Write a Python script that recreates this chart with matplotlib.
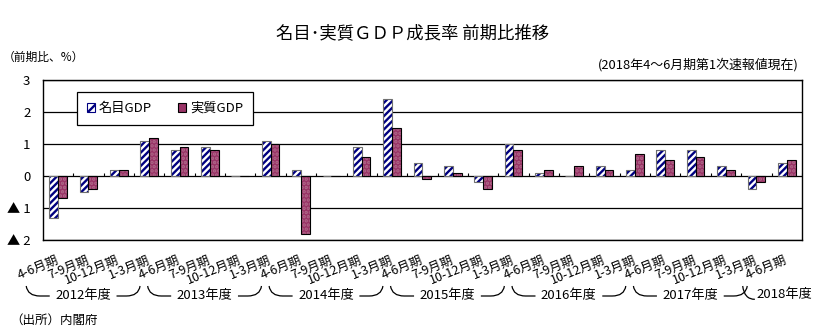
import numpy as np
import matplotlib
matplotlib.use('Agg')
from matplotlib import pyplot as plt
from matplotlib.patches import Patch
from matplotlib.path import Path
from matplotlib.patches import PathPatch
from matplotlib.transforms import blended_transform_factory

plt.rcParams['font.family'] = ['Noto Sans CJK JP', 'DejaVu Sans']
plt.rcParams['hatch.linewidth'] = 1.7

quarters = ['4-6月期', '7-9月期', '10-12月期', '1-3月期'] * 6 + ['4-6月期']
nominal = [-1.3, -0.5, 0.2, 1.1, 0.8, 0.9, 0.0, 1.1, 0.2, 0.0, 0.9, 2.4,
           0.4, 0.3, -0.2, 1.0, 0.1, 0.0, 0.3, 0.2, 0.8, 0.8, 0.3, -0.4, 0.4]
real = [-0.7, -0.4, 0.2, 1.2, 0.9, 0.8, 0.0, 1.0, -1.8, 0.0, 0.6, 1.5,
        -0.1, 0.1, -0.4, 0.8, 0.2, 0.3, 0.2, 0.7, 0.5, 0.6, 0.2, -0.2, 0.5]
fiscal_years = ['2012年度', '2013年度', '2014年度', '2015年度', '2016年度', '2017年度', '2018年度']
yticks = [-2, -1, 0, 1, 2, 3]
ytick_labels = ['▲ 2', '▲ 1', '0', '1', '2', '3']

NAVY = '#000080'
MAROON = '#993366'
HATCH = '/////'

fig = plt.figure(figsize=(8.25, 3.33), dpi=100)
ax = fig.add_axes([0.052, 0.279, 0.920, 0.481])

x = np.arange(len(quarters))
w = 0.29
# nominal: white with navy stripes, grey outline
ax.bar(x - w / 2, nominal, w, color='white', edgecolor=NAVY, hatch=HATCH, linewidth=0, zorder=3)
ax.bar(x - w / 2, nominal, w, fill=False, edgecolor='#707070', linewidth=0.8, zorder=4)
# real: maroon with faint speckles
ax.bar(x + w / 2, real, w, color=MAROON, edgecolor='#b06a8a', hatch='....', linewidth=0, zorder=3)
ax.bar(x + w / 2, real, w, fill=False, edgecolor='black', linewidth=0.8, zorder=4)

ax.set_xlim(-0.5, len(quarters) - 0.5)
ax.set_ylim(-2, 3)
ax.set_yticks(yticks)
ax.set_yticklabels(ytick_labels, fontsize=9.5)
ax.tick_params(axis='y', length=0, pad=9)
for yv in yticks:
    ax.axhline(yv, color='black', linewidth=0.9, zorder=1)
for s in ax.spines.values():
    s.set_linewidth(1.0)

# small category ticks on the zero line
ax.vlines(np.arange(len(quarters) + 1) - 0.5, 0, 0.08, color='black', linewidth=0.8, zorder=2)

ax.set_xticks(x)
ax.set_xticklabels(quarters, rotation=22, ha='right', va='center', rotation_mode='anchor', fontsize=9)
ax.tick_params(axis='x', length=0, pad=14)

# fiscal-year brackets under the quarter labels
trans = blended_transform_factory(ax.transData, fig.transFigure)
y_top, y_line = 1 - 286 / 333, 1 - 296 / 333
starts = [0, 4, 8, 12, 16, 20, 24]
for i, fy in enumerate(fiscal_years):
    first = starts[i]
    last = starts[i + 1] - 1 if i + 1 < len(starts) else first
    x0 = first - 1.05
    x1 = last - 0.3
    if i + 1 < len(starts):
        xc = (x0 + x1) / 2
        ax.add_patch(PathPatch(Path([(x0, y_top), (x0 + 0.05, y_line), (x0 + 0.45, y_line), (xc - 1.1, y_line)],
                                    [Path.MOVETO, Path.CURVE3, Path.CURVE3, Path.LINETO]),
                               transform=trans, fill=False, lw=0.9, clip_on=False))
        ax.add_patch(PathPatch(Path([(x1, y_top), (x1 - 0.05, y_line), (x1 - 0.45, y_line), (xc + 1.1, y_line)],
                                    [Path.MOVETO, Path.CURVE3, Path.CURVE3, Path.LINETO]),
                               transform=trans, fill=False, lw=0.9, clip_on=False))
        ax.text(xc, y_line, fy, transform=trans, ha='center', va='center', fontsize=9.5)
    else:
        x0 = first - 1.45
        ax.add_patch(PathPatch(Path([(x0, y_top), (x0 + 0.05, y_line - 0.01), (x0 + 0.4, y_line - 0.01)],
                                    [Path.MOVETO, Path.CURVE3, Path.CURVE3]),
                               transform=trans, fill=False, lw=0.9, clip_on=False))
        ax.text(x0 + 0.45, y_line + 0.005, fy, transform=trans, ha='left', va='center', fontsize=9.5)

handles = [Patch(facecolor='white', edgecolor=NAVY, hatch='///', linewidth=0.8),
           Patch(facecolor=MAROON, edgecolor='black', linewidth=0.8)]
leg = ax.legend(handles, ['名目GDP', '実質GDP'], ncol=2, loc='upper left',
                bbox_to_anchor=(0.045, 0.925), fontsize=9.5, frameon=True, fancybox=False,
                framealpha=1, edgecolor='black', handlelength=0.6, handleheight=0.7,
                handletextpad=0.3, columnspacing=2.0, borderpad=0.75, borderaxespad=0)
leg.get_frame().set_linewidth(0.9)
leg.set_zorder(5)

fig.text(0.5, 1 - 33 / 333, '名目･実質ＧＤＰ成長率 前期比推移', ha='center', va='center', fontsize=12.5)
fig.text(0.003, 1 - 57 / 333, '（前期比、%）', ha='left', va='center', fontsize=8.5)
fig.text(0.968, 1 - 65 / 333, '(2018年4～6月期第1次速報値現在)', ha='right', va='center', fontsize=9.3)
fig.text(0.012, 1 - 320 / 333, '（出所）内閣府', ha='left', va='center', fontsize=9)

fig.savefig('out.png', dpi=100)
plt.close(fig)
